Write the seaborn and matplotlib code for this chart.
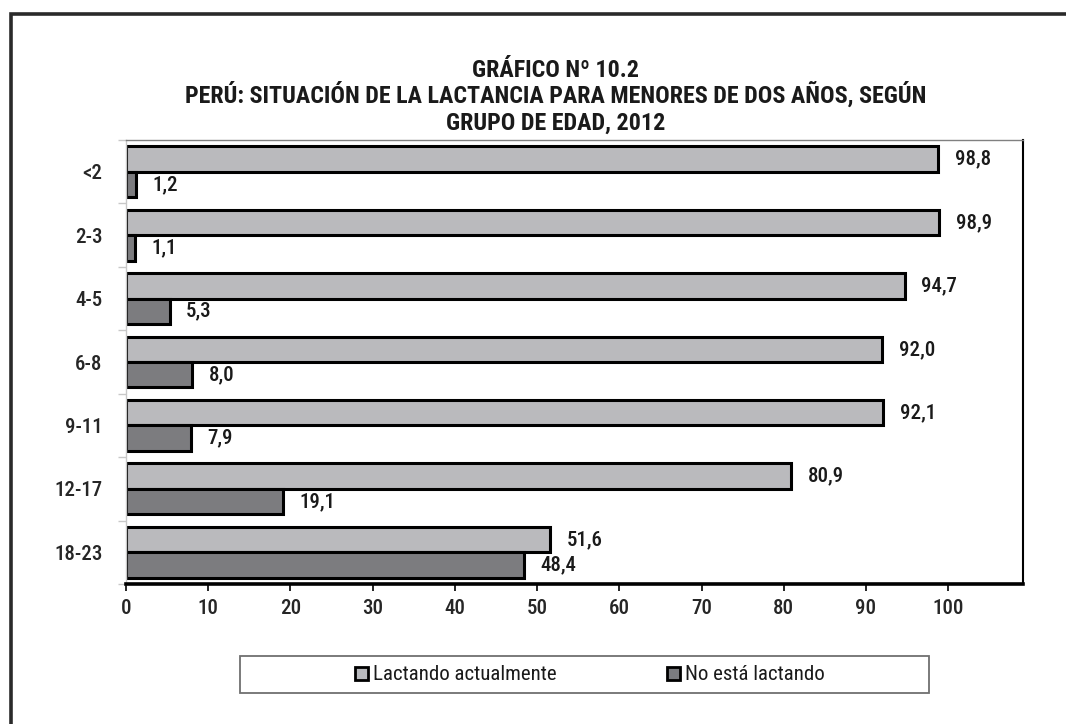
import matplotlib
matplotlib.use("Agg")
import matplotlib.pyplot as plt
from matplotlib import font_manager as fm
from matplotlib.patches import Rectangle
from matplotlib.ticker import FixedLocator, NullFormatter
import seaborn as sns
import pandas as pd

# Data
grupos = ["<2", "2-3", "4-5", "6-8", "9-11", "12-17", "18-23"]
lactando = [98.8, 98.9, 94.7, 92.0, 92.1, 80.9, 51.6]
no_lactando = [1.2, 1.1, 5.3, 8.0, 7.9, 19.1, 48.4]
series = ["Lactando actualmente", "No está lactando"]
x_ticks = [0, 10, 20, 30, 40, 50, 60, 70, 80, 90, 100]
titulo = ["GRÁFICO Nº 10.2",
          "PERÚ: SITUACIÓN DE LA LACTANCIA PARA MENORES DE DOS AÑOS, SEGÚN",
          "GRUPO DE EDAD, 2012"]

df = pd.DataFrame({
    "grupo": grupos * 2,
    "estado": [series[0]] * len(grupos) + [series[1]] * len(grupos),
    "valor": lactando + no_lactando,
})

sns.set_theme(style="white")

# Pick a narrow / condensed sans face if one is installed
def _is_narrow(f):
    st = f.stretch
    if isinstance(st, str):
        narrow_st = st in ("ultra-condensed", "extra-condensed", "condensed", "semi-condensed")
    else:
        narrow_st = st < 500
    return "Narrow" in f.name or "Condensed" in f.name or narrow_st

narrow = [f for f in fm.fontManager.ttflist if _is_narrow(f)]
pref = ["Liberation Sans Narrow", "Roboto Condensed", "Open Sans Condensed",
        "Noto Sans", "DejaVu Sans", "Open Sans", "Roboto"]
chosen = None
for p in pref:
    for f in narrow:
        if f.name == p:
            chosen = f
            break
    if chosen:
        break
if chosen is None and narrow:
    chosen = narrow[0]

if chosen is not None:
    plt.rcParams["font.family"] = [chosen.name, "DejaVu Sans"]
    plt.rcParams["font.stretch"] = chosen.stretch
else:
    plt.rcParams["font.family"] = ["DejaVu Sans"]
plt.rcParams["text.color"] = "#1a1a1a"

c_light = "#b9babe"
c_dark = "#7b7c80"
txt_w = "medium"

fig = plt.figure(figsize=(10.66, 7.24), dpi=100)
ax = fig.add_axes([126 / 1066, 1 - 584 / 724, (1023 - 126) / 1066, (584 - 140) / 724])

sns.barplot(data=df, y="grupo", x="valor", hue="estado", orient="h",
            order=grupos, hue_order=series, palette=[c_light, c_dark],
            edgecolor="black", linewidth=2.2, width=0.8, ax=ax, legend=False)

for cont in ax.containers:
    labels = [f"{v:.1f}".replace(".", ",") for v in cont.datavalues]
    ax.bar_label(cont, labels=labels, padding=12, fontsize=15,
                 fontweight=txt_w, color="#1a1a1a")

ax.set_xlim(0, 109.1)
ax.set_ylim(len(grupos) - 0.5, -0.5)
ax.set_xlabel("")
ax.set_ylabel("")
ax.set_xticks(x_ticks)
ax.set_xticklabels([str(t) for t in x_ticks], fontsize=15, fontweight=txt_w)
ax.tick_params(axis="x", length=5, width=1.2, color="black", pad=6, direction="out",
               bottom=True)
ax.tick_params(axis="y", which="major", length=0, pad=17, labelsize=15)
for lbl in ax.get_yticklabels():
    lbl.set_fontweight(txt_w)
ax.yaxis.set_minor_locator(FixedLocator([i - 0.5 for i in range(len(grupos) + 1)]))
ax.yaxis.set_minor_formatter(NullFormatter())
ax.tick_params(axis="y", which="minor", length=6, width=1, color="#c8c8c8", left=True)

ax.spines["top"].set_color("#808080")
ax.spines["top"].set_linewidth(1.0)
ax.spines["right"].set_color("black")
ax.spines["right"].set_linewidth(1.5)
ax.spines["bottom"].set_color("black")
ax.spines["bottom"].set_linewidth(2.6)
ax.spines["left"].set_color("#c8c8c8")
ax.spines["left"].set_linewidth(1.0)
for s in ax.spines.values():
    s.set_visible(True)

# Title, one line at a time
for linea, base_px in zip(titulo, (77, 103, 130)):
    fig.text(556 / 1066, 1 - base_px / 724, linea, ha="center", va="baseline",
             fontsize=17.3, fontweight="bold")

# Outer frame (left and top edges visible)
fig.patches.append(Rectangle((11 / 1066, -0.1), 1.2, 1.1 - 14 / 724,
                             transform=fig.transFigure, fill=False,
                             edgecolor="#2a2a2a", linewidth=2.6))

# Legend box
fig.patches.append(Rectangle((240 / 1066, 1 - 693 / 724), 689 / 1066, 37 / 724,
                             transform=fig.transFigure, fill=False,
                             edgecolor="#707070", linewidth=1.3))
handles = [Rectangle((0, 0), 1, 1, facecolor=c, edgecolor="black", linewidth=2)
           for c in (c_light, c_dark)]
fig.legend(handles, series, loc="center", bbox_to_anchor=(590 / 1066, 1 - 675 / 724),
           ncol=2, frameon=False, fontsize=15, handlelength=0.6, handleheight=0.6,
           handletextpad=0.25, columnspacing=5.3)

fig.savefig("out.png", dpi=100)
